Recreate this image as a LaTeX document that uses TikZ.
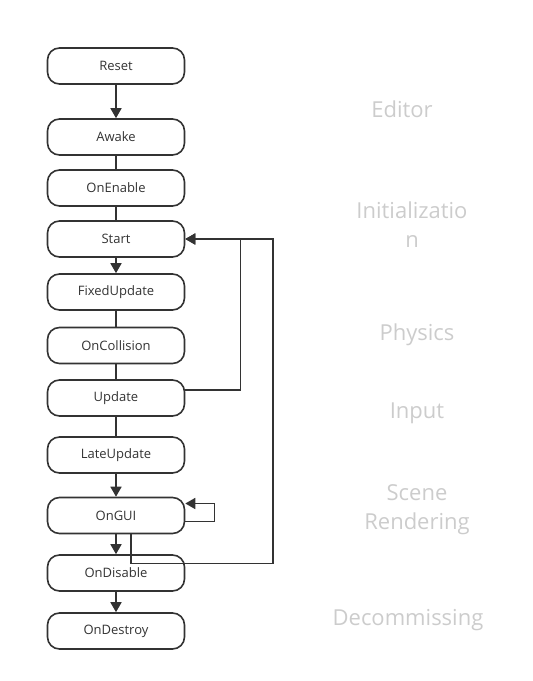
\documentclass[tikz,border=0pt]{standalone}
\usepackage{fontspec}
\setmainfont{Open Sans}
\usepackage{tikz}
\usetikzlibrary{positioning}
\usetikzlibrary{arrows.meta}
\tikzset{stage/.style={draw, rounded corners=12pt, minimum width=137pt, minimum height=36pt, inner sep=0pt, font=\fontsize{13}{15}\selectfont}}
\tikzset{phase/.style={text=black!20, align=center, font=\fontsize{22}{29}\selectfont}}

\begin{document}
\begin{tikzpicture}[x=1pt,y=-1pt,color=black!80,line width=1.6pt,>={Triangle[length=10pt,width=11pt]}]
\useasboundingbox (0,0) rectangle (533,681);
\node[stage] (reset) at (116,66) {Reset};
\node[stage] (awake) at (116,137) {Awake};
\node[stage] (enable) at (116,188) {OnEnable};
\node[stage] (start) at (116,239) {Start};
\node[stage] (fixed) at (116,292) {FixedUpdate};
\node[stage] (collision) at (116,345.5) {OnCollision};
\node[stage] (update) at (116,398) {Update};
\node[stage] (late) at (116,455) {LateUpdate};
\node[stage] (gui) at (116,515.5) {OnGUI};
\node[stage] (disable) at (116,573) {OnDisable};
\node[stage] (destroy) at (116,631) {OnDestroy};
\draw[->] (reset) -- (awake);
\draw (awake) -- (enable);
\draw (enable) -- (start);
\draw[->] (start) -- (fixed);
\draw (fixed) -- (collision);
\draw (collision) -- (update);
\draw (update) -- (late);
\draw[->] (late) -- (gui);
\draw[->] (gui) -- (disable);
\draw[->] (disable) -- (destroy);
\draw[->] ([yshift=8pt]update.east) -- ++(55,0) |- (start.east);
\draw[->] ([xshift=15pt]gui.south) -- ++(0,29) -- ++(142,0) |- (start.east);
\draw[->] ([yshift=-6pt]gui.east) -- ++(29,0) |- ([yshift=12pt]gui.east);
%\draw[help lines] (0,0) grid[step=50] (533,681);
\node[phase] (editor) at (402,109) {Editor};
\node[phase] (init) at (412,224.5) {Initializatio\\n};
\node[phase] (physics) at (417,334.5) {Physics};
\node[phase] (input) at (417,413) {Input};
\node[phase] (scene) at (417,509.5) {Scene\\Rendering};
\node[phase] (decom) at (408,620) {Decommissing};
\end{tikzpicture}
\end{document}
